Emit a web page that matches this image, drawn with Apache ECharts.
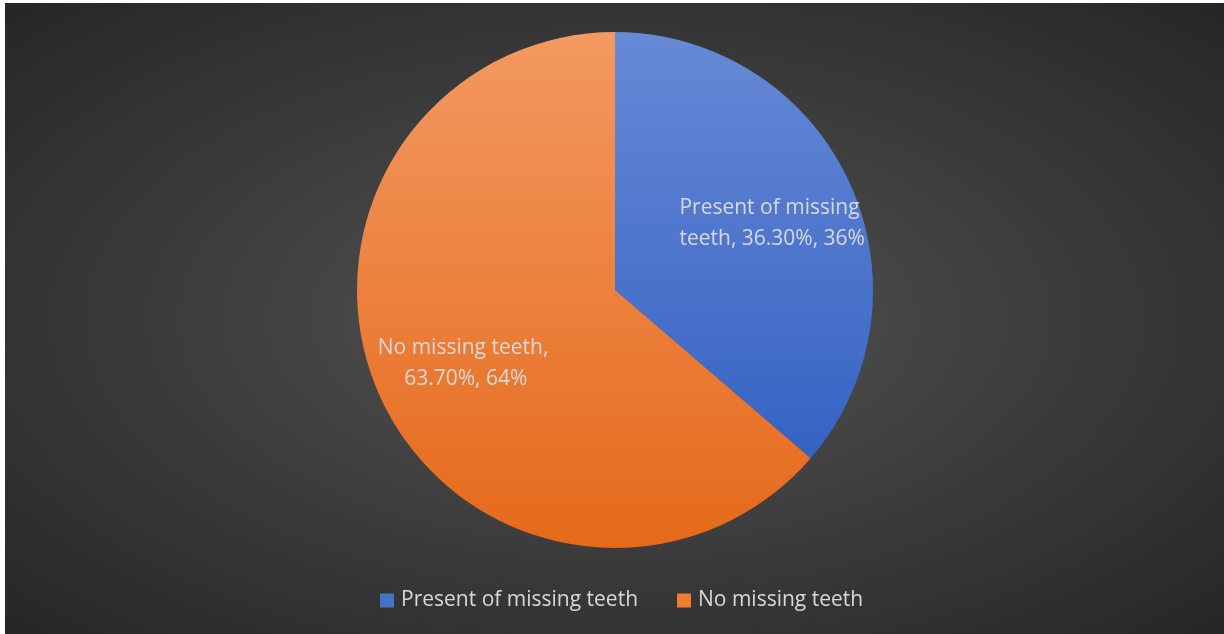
<!DOCTYPE html>
<html>
<head>
<meta charset="utf-8">
<script src="https://cdn.jsdelivr.net/npm/echarts@6/dist/echarts.min.js"></script>
<style>
html, body { margin: 0; padding: 0; background: #ffffff; }
#teeth_pie {
	position: absolute; left: 5px; top: 3px; width: 1219px; height: 631px;
	background: radial-gradient(ellipse at 50% 50%, #555555 0%, #3a3a3a 55%, #262626 100%);
}
</style>
</head>
<body>
<div id="teeth_pie"></div>
<script>
var categories = ['Present of missing teeth', 'No missing teeth'];
var percentValues = [36.30, 63.70];
var roundedValues = [36, 64];

var sliceColors = [
	['#6789d6', '#3563c3'],
	['#f39961', '#e5691a']
];

var myChart = echarts.init(document.getElementById('teeth_pie'));

queryTeethPie();

function queryTeethPie() {
	var pieData = [];
	var labelData = [];
	for (var i = 0; i < categories.length; i++) {
		pieData.push({
			name: categories[i],
			value: percentValues[i],
			itemStyle: {
				color: new echarts.graphic.LinearGradient(0, 0, 0, 1, [
					{ offset: 0, color: sliceColors[i][0] },
					{ offset: 1, color: sliceColors[i][1] }
				])
			}
		});
		labelData.push({
			name: categories[i],
			value: percentValues[i],
			itemStyle: { color: 'rgba(0,0,0,0)' }
		});
	}
	labelData[0].label = { offset: [0, 6] };
	labelData[1].label = { offset: [8, 1] };

	var option = {
		backgroundColor: 'transparent',
		legend: {
			bottom: 18,
			left: 370,
			itemWidth: 14,
			itemHeight: 14,
			itemGap: 39,
			icon: 'rect',
			data: [
				{ name: categories[0], itemStyle: { color: '#4472c4' } },
				{ name: categories[1], itemStyle: { color: '#ed7d31' } }
			],
			textStyle: {
				color: '#d9d9d9',
				fontSize: 21,
				fontFamily: 'Open Sans',
				padding: [0, 0, 0, 2]
			}
		},
		series: [{
			name: 'teeth',
			type: 'pie',
			center: [610, 287],
			radius: 258,
			startAngle: 90,
			clockwise: true,
			silent: true,
			label: { show: false },
			labelLine: { show: false },
			data: pieData
		}, {
			// transparent ring, only used to place the labels further out
			name: 'labels',
			type: 'pie',
			center: [610, 287],
			radius: [82, 258],
			startAngle: 90,
			clockwise: true,
			silent: true,
			legendHoverLink: false,
			labelLine: { show: false },
			label: {
				show: true,
				position: 'inside',
				color: '#d9d9d9',
				fontSize: 21,
				lineHeight: 31,
				fontFamily: 'Open Sans',
				width: 200,
				overflow: 'break',
				align: 'center',
				formatter: function (p) {
					return p.name + ', ' + percentValues[p.dataIndex].toFixed(2) + '%, ' + roundedValues[p.dataIndex] + '%';
				}
			},
			data: labelData
		}]
	};
	myChart.clear();
	myChart.setOption(option);
}
</script>
</body>
</html>
